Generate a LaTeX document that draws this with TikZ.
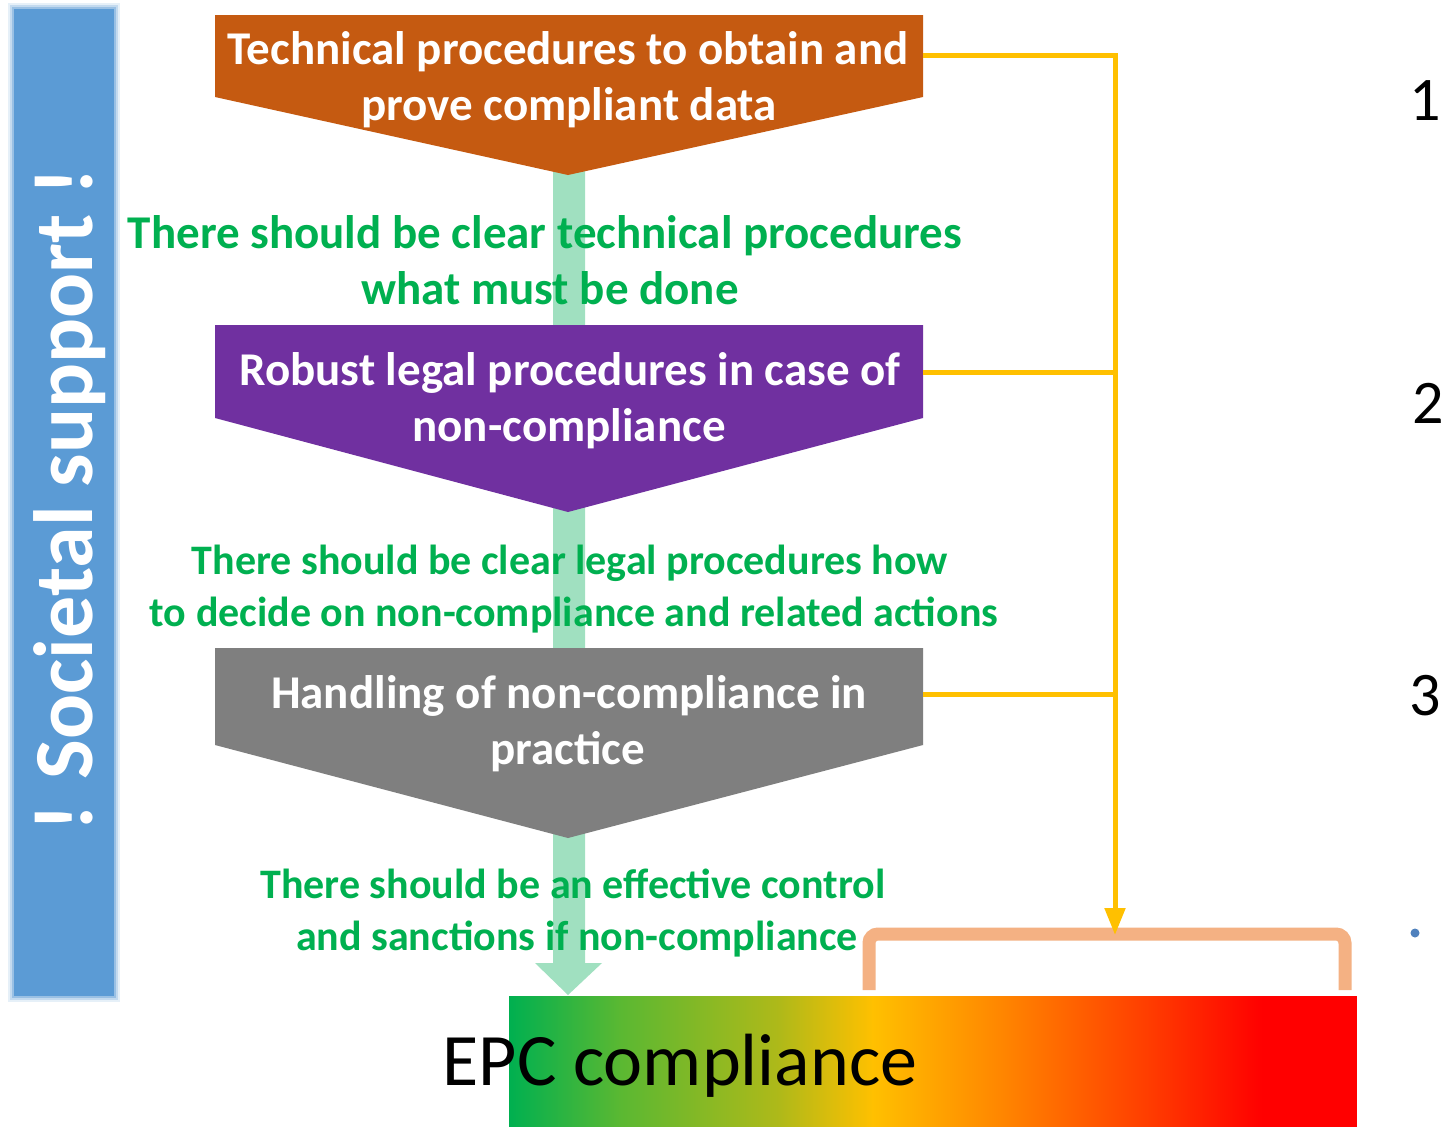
\documentclass[tikz,border=0pt]{standalone}
\usepackage{fontspec}
\setmainfont{Carlito}
\usetikzlibrary{arrows.meta}
\definecolor{barblue}{HTML}{5B9BD5}
\definecolor{techorange}{HTML}{C55A11}
\definecolor{legalpurple}{HTML}{7030A0}
\definecolor{handgray}{HTML}{7F7F7F}
\definecolor{txtgreen}{HTML}{00B050}
\definecolor{bandgreen}{RGB}{160,224,192}
\definecolor{linkyellow}{HTML}{FFC000}
\definecolor{bracketsalmon}{HTML}{F4B183}
\definecolor{dotblue}{HTML}{4F81BD}
\definecolor{gA}{RGB}{0,176,80}
\definecolor{gB}{RGB}{90,184,50}
\definecolor{gC}{RGB}{175,185,25}
\definecolor{gD}{RGB}{255,192,0}
\definecolor{gE}{RGB}{255,130,0}
\definecolor{gF}{RGB}{255,60,0}
\definecolor{gG}{RGB}{255,0,0}
\begin{document}
\begin{tikzpicture}[x=1pt,y=-1pt,
  boxtext/.style={text=white,font=\fontsize{47}{56}\selectfont\bfseries,anchor=base,inner sep=0pt},
  greentextA/.style={text=txtgreen,font=\fontsize{47}{56}\selectfont\bfseries,anchor=base,inner sep=0pt},
  greentextB/.style={text=txtgreen,font=\fontsize{42}{52}\selectfont\bfseries,anchor=base,inner sep=0pt},
  numtext/.style={text=black,font=\fontsize{62}{70}\selectfont,anchor=base,inner sep=0pt},
  yline/.style={draw=linkyellow,line width=5pt}]
\useasboundingbox (0,0) rectangle (1443,1127);
\fill[white] (0,0) rectangle (1443,1127);

% blue side bar with soft edge
\fill[barblue,opacity=0.15] (8,3) rectangle (120,1002);
\fill[barblue,opacity=0.25] (10,5) rectangle (118,1000);
\fill[barblue,opacity=0.4] (12,7) rectangle (116,998);
\fill[barblue] (14,9) rectangle (114,996);
\node[text=white,font=\fontsize{84}{100}\selectfont\bfseries,rotate=90,anchor=base,inner sep=0pt] (societal) at (92,500) {! Societal support !};

% green band arrow
\fill[bandgreen] (553,170) -- (585,170) -- (585,963) -- (602,963) -- (568,995) -- (535,963) -- (553,963) -- cycle;
\coordinate (bandtip) at (568,995);

% gradient bar
\shade[left color=gA,right color=gB] (509,996) rectangle (620,1127);
\shade[left color=gB,right color=gC] (619.5,996) rectangle (780,1127);
\shade[left color=gC,right color=gD] (779.5,996) rectangle (873,1127);
\shade[left color=gD,right color=gE] (872.5,996) rectangle (1010,1127);
\shade[left color=gE,right color=gF] (1009.5,996) rectangle (1150,1127);
\shade[left color=gF,right color=gG] (1149.5,996) rectangle (1262,1127);
\fill[gG] (1261.5,996) rectangle (1357,1127);
\node[text=black,font=\fontsize{74}{80}\selectfont,anchor=base,inner sep=0pt] (epc) at (680,1085) {EPC compliance};

% pentagons
\fill[techorange] (215,15) -- (923,15) -- (923,97) -- (568,175) -- (215,97) -- cycle;
\fill[legalpurple] (215,325) -- (923,325) -- (923,418) -- (568,512) -- (215,418) -- cycle;
\fill[handgray] (215,648) -- (923,648) -- (923,745) -- (568,838) -- (215,745) -- cycle;
\coordinate (tech-r) at (923,55);
\coordinate (legal-r) at (923,372);
\coordinate (hand-r) at (923,694);

\node[boxtext] (tech1) at (568,64) {Technical procedures to obtain and};
\node[boxtext] (tech2) at (569,120) {prove compliant data};
\node[boxtext] (legal1) at (570,385) {Robust legal procedures in case of};
\node[boxtext] (legal2) at (569,441) {non-compliance};
\node[boxtext] (hand1) at (569,708) {Handling of non-compliance in};
\node[boxtext] (hand2) at (568,764) {practice};

% green texts
\node[greentextA] (g1a) at (545,248) {There should be clear technical procedures};
\node[greentextA] (g1b) at (550,304) {what must be done};
\node[greentextB] (g2a) at (570,574) {There should be clear legal procedures how};
\node[greentextB] (g2b) at (574,626) {to decide on non-compliance and related actions};
\node[greentextB] (g3a) at (573,898) {There should be an effective control};
\node[greentextB] (g3b) at (577,950) {and sanctions if non-compliance};

% bracket
\draw[bracketsalmon,line width=13pt,rounded corners=9pt] (869,990) -- (869,934) -- (1345,934) -- (1345,990);

% yellow connectors
\coordinate (trunk1) at (1115,55);
\coordinate (trunk2) at (1115,372);
\coordinate (trunk3) at (1115,694);
\coordinate (trunktip) at (1115,935);
\draw[yline,-{Triangle[width=20pt,length=27pt]}] (tech-r) -- (trunk1) -- (trunktip);
\draw[yline] (legal-r) -- (trunk2);
\draw[yline] (hand-r) -- (trunk3);

% numbers
\node[numtext] (n1) at (1425,120) {1};
\node[numtext] (n2) at (1428,423) {2};
\node[numtext] (n3) at (1425,715) {3};

% small dot
\fill[dotblue] (1415,933) circle (4.5);
\end{tikzpicture}
\end{document}
